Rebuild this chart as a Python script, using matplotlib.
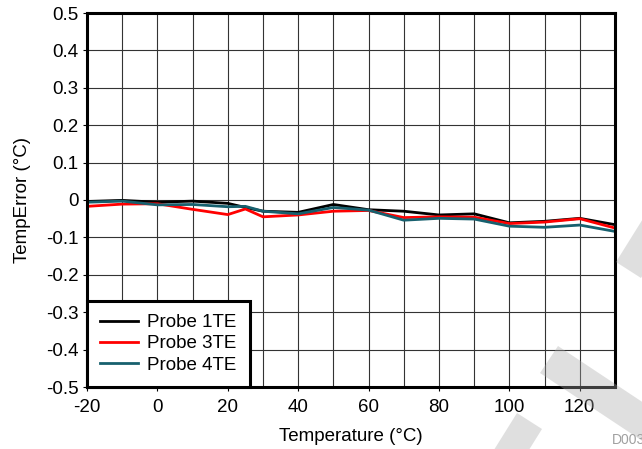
import matplotlib
matplotlib.use('Agg')
import matplotlib.pyplot as plt
from matplotlib.patches import Polygon

plt.rcParams['font.family'] = ['Liberation Sans', 'DejaVu Sans']

temps = [-20, -10, 0, 10, 20, 25, 30, 40, 50, 60, 70, 80, 90, 100, 110, 120, 130]
probe_1te = [-0.004, -0.001, -0.006, -0.003, -0.009, -0.020, -0.030, -0.033, -0.012,
             -0.026, -0.030, -0.040, -0.037, -0.061, -0.057, -0.049, -0.066]
probe_3te = [-0.017, -0.011, -0.010, -0.025, -0.039, -0.024, -0.045, -0.040, -0.030,
             -0.028, -0.047, -0.045, -0.046, -0.063, -0.059, -0.050, -0.075]
probe_4te = [-0.006, -0.003, -0.013, -0.012, -0.018, -0.017, -0.030, -0.037, -0.020,
             -0.027, -0.054, -0.049, -0.051, -0.070, -0.073, -0.067, -0.084]

series_names = ['Probe 1TE', 'Probe 3TE', 'Probe 4TE']
series_colors = ['#000000', '#ff0000', '#17606e']

x_ticks = [-20, 0, 20, 40, 60, 80, 100, 120]
y_ticks = [0.5, 0.4, 0.3, 0.2, 0.1, 0, -0.1, -0.2, -0.3, -0.4, -0.5]
y_labels = ['0.5', '0.4', '0.3', '0.2', '0.1', '0', '-0.1', '-0.2', '-0.3', '-0.4', '-0.5']

W, H = 642, 449
FS = 13.5
fig = plt.figure(figsize=(W / 100, H / 100), dpi=100)

ax = fig.add_axes([87 / W, 1 - 387 / H, (615 - 87) / W, (387 - 13) / H])

for vals, name, col in zip([probe_1te, probe_3te, probe_4te], series_names, series_colors):
    ax.plot(temps, vals, color=col, lw=2, label=name)

ax.set_xlim(-20, 130)
ax.set_ylim(-0.5, 0.5)
ax.set_xticks(x_ticks)
ax.set_xticks(range(-20, 131, 10), minor=True)
ax.set_yticks(y_ticks)
ax.set_yticklabels(y_labels)
ax.set_xticklabels([str(t) for t in x_ticks])
ax.grid(True, which='both', color='#333333', lw=0.8)
ax.set_axisbelow(True)
ax.tick_params(axis='y', which='major', labelsize=FS, length=3, width=0.8, pad=3)
ax.tick_params(axis='x', which='major', labelsize=FS, length=3, width=0.8, pad=6)
ax.tick_params(axis='x', which='minor', length=0)
for s in ax.spines.values():
    s.set_linewidth(2.2)

ax.set_xlabel('Temperature (\u00b0C)', fontsize=FS, labelpad=8)
ax.set_ylabel('TempError (\u00b0C)', fontsize=FS, labelpad=11)

leg = ax.legend(loc='lower left', fontsize=FS, frameon=True, fancybox=False,
                borderaxespad=0, handlelength=2.0, labelspacing=0.21,
                borderpad=0.72, handletextpad=0.5)
leg.get_frame().set_edgecolor('black')
leg.get_frame().set_linewidth(2.2)
leg.get_frame().set_alpha(1)
for line in leg.get_lines():
    line.set_linewidth(2)

# watermark stripes, figure pixel coords
def px(pts):
    return [(x / W, 1 - y / H) for x, y in pts]

bands = [
    [(616, 262), (641, 278), (694, 193), (669, 177)],
    [(517, 413), (542, 429), (489, 514), (464, 498)],
    [(558, 346), (540, 373), (665, 456), (683, 429)],
]
for b in bands:
    fig.add_artist(Polygon(px(b), closed=True, transform=fig.transFigure,
                           facecolor='#a8a8a8', edgecolor='none', alpha=0.36, zorder=5))

fig.text(612 / W, 1 - 440 / H, 'D003', fontsize=10, color='#a0a0a0', va='center', ha='left')

fig.savefig('out.png', dpi=100)
